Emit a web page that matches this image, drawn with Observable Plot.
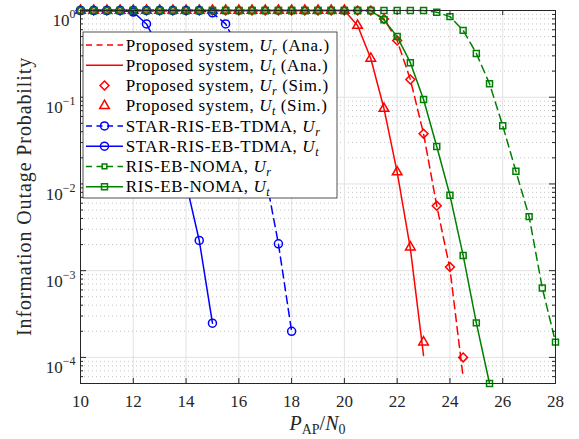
<!DOCTYPE html>
<html><head><meta charset="utf-8">
<script src="https://cdn.jsdelivr.net/npm/d3@7"></script>
<script src="https://cdn.jsdelivr.net/npm/@observablehq/plot@0.6"></script>
<style>
html,body{margin:0;padding:0;background:#fff;}
#chart svg{display:block;}
</style>
</head><body><div id="chart"></div>
<script>
// ---------- data ----------
const xTicks = [10, 12, 14, 16, 18, 20, 22, 24, 26, 28];
const yTicks = [1e-4, 1e-3, 1e-2, 1e-1, 1];
const yTickExp = ["−4", "−3", "−2", "−1", "0"];

// Proposed system, U_r (Ana. dashed line + Sim. diamonds)
const propUrX   = [10,10.5,11,11.5,12,12.5,13,13.5,14,14.5,15,15.5,16,16.5,17,17.5,18,18.5,19,19.5,20,20.5,21,21.5,22,22.5,23,23.5,24,24.5];
const propUrAna = [1,1,1,1,1,1,1,1,1,1,1,1,1,1,1,1,1,1,1,1,1,1,1,0.80,0.45,0.16,0.038,0.0056,0.00105,0.000059];
const propUrSim = [1,1,1,1,1,1,1,1,1,1,1,1,1,1,1,1,1,1,1,1,1,1,1,0.80,0.45,0.16,0.038,0.0056,0.0011,0.0001];

// Proposed system, U_t (Ana. solid line + Sim. triangles)
const propUtX   = [10,10.5,11,11.5,12,12.5,13,13.5,14,14.5,15,15.5,16,16.5,17,17.5,18,18.5,19,19.5,20,20.5,21,21.5,22,22.5,23];
const propUtAna = [1,1,1,1,1,1,1,1,1,1,1,1,1,1,1,1,1,1,1,1,1,0.67,0.28,0.074,0.0137,0.0018,0.000105];
const propUtSim = [1,1,1,1,1,1,1,1,1,1,1,1,1,1,1,1,1,1,1,1,1,0.67,0.28,0.074,0.0137,0.00187,0.00015];

// STAR-RIS-EB-TDMA
const tdmaUrX = [10,10.5,11,11.5,12,12.5,13,13.5,14,14.5,15,15.5,16,16.5,17,17.5,18];
const tdmaUr  = [1,1,1,1,1,1,1,1,1,1,0.94,0.70,0.36,0.08,0.013,0.00204,0.0002];
const tdmaUtX = [10,10.5,11,11.5,12,12.5,13,13.5,14,14.5,15];
const tdmaUt  = [1,1,1,1,0.96,0.70,0.36,0.08,0.0102,0.00223,0.000248];

// RIS-EB-NOMA
const nomaUrX = [10,10.5,11,11.5,12,12.5,13,13.5,14,14.5,15,15.5,16,16.5,17,17.5,18,18.5,19,19.5,20,20.5,21,21.5,22,22.5,23,23.5,24,24.5,25,25.5,26,26.5,27,27.5,28];
const nomaUr  = [1,1,1,1,1,1,1,1,1,1,1,1,1,1,1,1,1,1,1,1,1,1,1,1,1,1,1,0.955,0.85,0.59,0.32,0.143,0.047,0.014,0.0042,0.00063,0.00015];
const nomaUtX = [10,10.5,11,11.5,12,12.5,13,13.5,14,14.5,15,15.5,16,16.5,17,17.5,18,18.5,19,19.5,20,20.5,21,21.5,22,22.5,23,23.5,24,24.5,25,25.5];
const nomaUt  = [1,1,1,1,1,1,1,1,1,1,1,1,1,1,1,1,1,1,1,1,1,1,1,0.78,0.5,0.25,0.094,0.027,0.0074,0.0015,0.00025,0.00005];

// ---------- styling ----------
const RED = "#ff0000", BLUE = "#0000ff", GREEN = "#008000";
const DASH = "8,5";
const W = 579, H = 439, ML = 80, MR = 24, MT = 10, MB = 56;
const PW = W - ML - MR, PH = H - MT - MB;
const FONT = "'Liberation Serif', 'Times New Roman', serif";

const pts = (xs, ys) => xs.map((x, i) => ({x, y: ys[i]}));
const yMinor = [];
for (let k = -5; k <= -1; k++) for (let m = 2; m <= 9; m++) { const v = m * Math.pow(10, k); if (v >= 5e-5 && v < 1) yMinor.push(v); }

const lineW = 1.5;
const chart = Plot.plot({
  width: W, height: H,
  marginLeft: ML, marginRight: MR, marginTop: MT, marginBottom: MB,
  style: {fontFamily: FONT, fontSize: "17px", background: "#fff", color: "#262626", overflow: "visible"},
  x: {domain: [10, 28], label: null},
  y: {type: "log", domain: [5e-5, 1], label: null},
  marks: [
    // grid
    Plot.ruleY(yMinor, {stroke: "#c4c4c4", strokeDasharray: "1,3", strokeWidth: 1}),
    Plot.ruleX(xTicks, {stroke: "#e2e2e2", strokeWidth: 1}),
    Plot.ruleY(yTicks, {stroke: "#e2e2e2", strokeWidth: 1}),
    // Proposed system
    Plot.line(pts(propUrX, propUrAna), {x: "x", y: "y", stroke: RED, strokeWidth: lineW, strokeDasharray: DASH}),
    Plot.line(pts(propUtX, propUtAna), {x: "x", y: "y", stroke: RED, strokeWidth: lineW}),
    Plot.dot(pts(propUrX, propUrSim), {x: "x", y: "y", symbol: "diamond2", r: 4, stroke: RED, strokeWidth: 1.5}),
    Plot.dot(pts(propUtX, propUtSim), {x: "x", y: "y", symbol: "triangle2", r: 4.6, stroke: RED, strokeWidth: 1.5}),
    // STAR-RIS-EB-TDMA
    Plot.line(pts(tdmaUrX, tdmaUr), {x: "x", y: "y", stroke: BLUE, strokeWidth: lineW, strokeDasharray: DASH}),
    Plot.dot(pts(tdmaUrX, tdmaUr), {x: "x", y: "y", symbol: "circle", r: 4, stroke: BLUE, strokeWidth: 1.5, fill: "none"}),
    Plot.line(pts(tdmaUtX, tdmaUt), {x: "x", y: "y", stroke: BLUE, strokeWidth: lineW}),
    Plot.dot(pts(tdmaUtX, tdmaUt), {x: "x", y: "y", symbol: "circle", r: 4, stroke: BLUE, strokeWidth: 1.5, fill: "none"}),
    // RIS-EB-NOMA
    Plot.line(pts(nomaUrX, nomaUr), {x: "x", y: "y", stroke: GREEN, strokeWidth: lineW, strokeDasharray: DASH}),
    Plot.dot(pts(nomaUrX, nomaUr), {x: "x", y: "y", symbol: "square2", r: 3.8, stroke: GREEN, strokeWidth: 1.5}),
    Plot.line(pts(nomaUtX, nomaUt), {x: "x", y: "y", stroke: GREEN, strokeWidth: lineW}),
    Plot.dot(pts(nomaUtX, nomaUt), {x: "x", y: "y", symbol: "square2", r: 3.8, stroke: GREEN, strokeWidth: 1.5}),
    // box + inward ticks
    Plot.frame({stroke: "#262626", strokeWidth: 1}),
    Plot.ruleX(xTicks, {stroke: "#262626", insetTop: PH - 5}),
    Plot.ruleX(xTicks, {stroke: "#262626", insetBottom: PH - 5}),
    Plot.ruleY(yTicks, {stroke: "#262626", insetRight: PW - 6}),
    Plot.ruleY(yTicks, {stroke: "#262626", insetLeft: PW - 6}),
    Plot.ruleY(yMinor, {stroke: "#262626", insetRight: PW - 3}),
    Plot.ruleY(yMinor, {stroke: "#262626", insetLeft: PW - 3}),
    // axes
    Plot.axisX({ticks: xTicks, tickSize: 0, tickPadding: 11, label: null, tickFormat: d => String(d)}),
    Plot.axisY({ticks: yTicks, tickSize: 0, tickPadding: 5, label: null,
      tickFormat: d => yTickExp[yTicks.findIndex(t => Math.abs(Math.log10(t) - Math.log10(d)) < 1e-6)]})
  ]
});
document.getElementById("chart").appendChild(chart);

const svg = d3.select(chart);
// y tick labels as 10^k
svg.selectAll('g[aria-label="y-axis tick label"] text').each(function () {
  const e = this.textContent;
  const t = d3.select(this);
  t.text(null).attr("dy", "0.62em");
  t.append("tspan").text("10");
  t.append("tspan").attr("font-size", "12px").attr("dy", -8).text(e);
});

// axis titles
const xl = svg.append("text").attr("x", ML + PW / 2).attr("y", 430)
  .attr("text-anchor", "middle").attr("font-size", "20px").attr("fill", "#262626");
xl.append("tspan").attr("font-style", "italic").text("P");
xl.append("tspan").attr("font-size", "14px").attr("dy", 4).text("AP");
xl.append("tspan").attr("dy", -4).text("/");
xl.append("tspan").attr("font-style", "italic").text("N");
xl.append("tspan").attr("font-size", "14px").attr("dy", 4).text("0");

svg.append("text").attr("transform", `translate(31,${MT + PH / 2}) rotate(-90)`)
  .attr("text-anchor", "middle").attr("font-size", "20px").attr("letter-spacing", "0.9px")
  .attr("fill", "#262626").text("Information Outage Probability");

// legend
const legendItems = [
  {color: RED, dash: DASH, sym: null, name: "Proposed system, ", sub: "r", tail: " (Ana.)"},
  {color: RED, dash: null, sym: null, name: "Proposed system, ", sub: "t", tail: " (Ana.)"},
  {color: RED, dash: "none", sym: d3.symbolDiamond2, r: 4, name: "Proposed system, ", sub: "r", tail: " (Sim.)"},
  {color: RED, dash: "none", sym: d3.symbolTriangle2, r: 4.6, name: "Proposed system, ", sub: "t", tail: " (Sim.)"},
  {color: BLUE, dash: DASH, sym: d3.symbolCircle, r: 4, name: "STAR-RIS-EB-TDMA, ", sub: "r", tail: ""},
  {color: BLUE, dash: null, sym: d3.symbolCircle, r: 4, name: "STAR-RIS-EB-TDMA, ", sub: "t", tail: ""},
  {color: GREEN, dash: DASH, sym: d3.symbolSquare2, r: 3, name: "RIS-EB-NOMA, ", sub: "r", tail: ""},
  {color: GREEN, dash: null, sym: d3.symbolSquare2, r: 3.8, name: "RIS-EB-NOMA, ", sub: "t", tail: ""}
];
const lg = svg.append("g").attr("text-anchor", "start");
lg.append("rect").attr("x", 83).attr("y", 32).attr("width", 254).attr("height", 166)
  .attr("fill", "#fff").attr("stroke", "#262626").attr("stroke-width", 0.8);
legendItems.forEach((it, i) => {
  const cy = 45 + i * 20.24;
  if (it.dash !== "none") {
    lg.append("line").attr("x1", 86).attr("x2", 123).attr("y1", cy).attr("y2", cy)
      .attr("stroke", it.color).attr("stroke-width", 1.5)
      .attr("stroke-dasharray", it.dash ? "6,4.5" : null);
  }
  if (it.sym) {
    lg.append("path").attr("d", d3.symbol(it.sym, Math.PI * it.r * it.r)())
      .attr("transform", `translate(104.5,${cy})`).attr("fill", "none")
      .attr("stroke", it.color).attr("stroke-width", 1.5);
  }
  const t = lg.append("text").attr("x", 125.7).attr("y", cy).attr("dy", "0.33em")
    .attr("text-anchor", "start")
    .attr("font-size", "17px").attr("letter-spacing", "0.6px").attr("fill", "#000");
  t.append("tspan").text(it.name);
  t.append("tspan").attr("font-style", "italic").text("U");
  t.append("tspan").attr("font-size", "12px").attr("font-style", "italic").attr("dy", 4).text(it.sub);
  if (it.tail) t.append("tspan").attr("dy", -4).text(it.tail);
});
</script>
</body></html>
